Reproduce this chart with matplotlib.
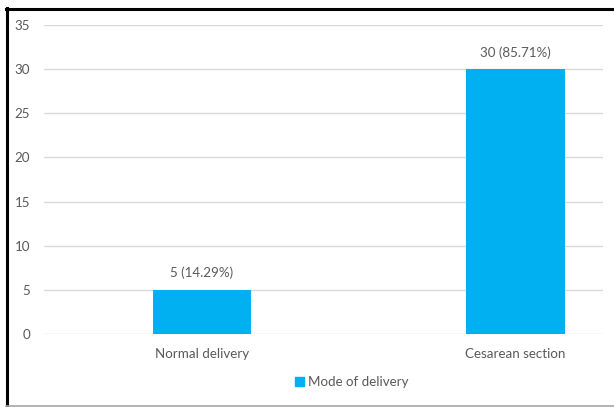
import matplotlib.pyplot as plt
from matplotlib.lines import Line2D
from matplotlib.patches import Patch

categories = ["Normal delivery", "Cesarean section"]
counts = [5, 30]
percents = [14.29, 85.71]
series_name = "Mode of delivery"

W, H = 614, 407
fig = plt.figure(figsize=(W / 100, H / 100), dpi=100)
plt.rcParams['font.family'] = ['Lato', 'DejaVu Sans']

# plot area in pixels: x 44..603, y 25..334
ax = fig.add_axes([44 / W, 1 - 334 / H, (603 - 44) / W, (334 - 25) / H])

bar_color = "#00b0f0"
text_color = "#595959"
fs = 9.6
x = [0, 1]
ax.bar(x, counts, width=0.314, color=bar_color, zorder=3)

for xi, c, p in zip(x, counts, percents):
    ax.text(xi, c + 1.2, f"{c} ({p:.2f}%)", ha="center", va="bottom",
            fontsize=fs, color=text_color)

ax.set_ylim(0, 35)
ax.set_yticks(range(0, 36, 5))
ax.set_xlim(-0.504, 1.279)
ax.set_xticks(x)
ax.set_xticklabels(categories)
ax.tick_params(axis="both", length=0, labelsize=fs, labelcolor=text_color)
ax.tick_params(axis="y", pad=10)
ax.tick_params(axis="x", pad=10)
ax.grid(axis="y", color="#d9d9d9", linewidth=1, zorder=0)
for s in ax.spines.values():
    s.set_visible(False)

fig.legend(handles=[Patch(color=bar_color, label=series_name)],
           loc="center", bbox_to_anchor=(352 / W, 1 - 382 / H),
           frameon=False, fontsize=fs, handlelength=0.7, handleheight=0.7,
           handletextpad=0.3, labelcolor=text_color)

# frame around the chart
fig.add_artist(Line2D([6 / W, 1], [1 - 9 / H] * 2, color="black", linewidth=2.2))
fig.add_artist(Line2D([7 / W] * 2, [1 - 8 / H, 1 - 405.5 / H], color="black", linewidth=2.2))
fig.add_artist(Line2D([6 / W, 1], [1 - 405.5 / H] * 2, color="#a6a6a6", linewidth=1.2))

fig.savefig("out.png", dpi=100)
